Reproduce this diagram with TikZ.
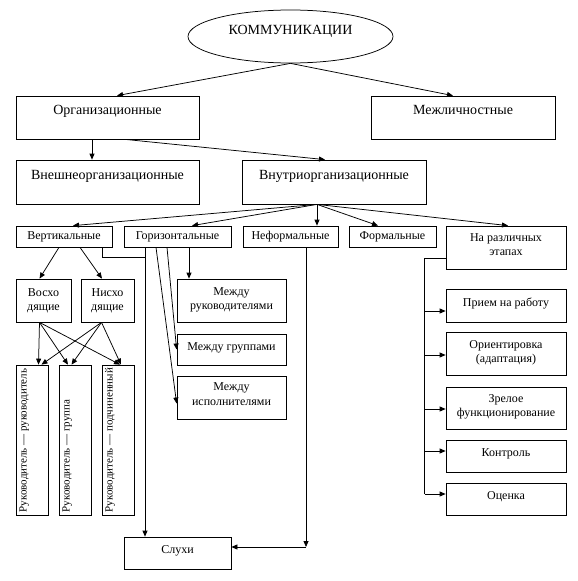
\documentclass[tikz,border=0pt]{standalone}
\usepackage{fontspec}
\setmainfont{Liberation Serif}
\usetikzlibrary{arrows.meta,shapes.geometric,calc}
\newcommand{\fA}{\fontsize{14pt}{16pt}\selectfont}
\newcommand{\fB}{\fontsize{12pt}{14.5pt}\selectfont}
\newcommand{\fC}{\fontsize{11pt}{13pt}\selectfont}
\newcommand{\tbox}[4]{\parbox[c][#2][t]{#1}{\centering\rule{0pt}{#3}#4\par}}
\begin{document}
\begin{tikzpicture}[x=1pt,y=-1pt,
  bx/.style={draw, line width=0.75pt, inner sep=0pt, rectangle, font=\fB},
  top/.style={bx, font=\fA},
  rbx/.style={draw, line width=0.75pt, inner sep=0pt, rectangle, minimum width=32pt, minimum height=150pt},
  rtxt/.style={rotate=90, anchor=base west, inner sep=0pt, font=\fC},
  arr/.style={-{Triangle[length=6pt,width=5pt]}, line width=0.75pt},
  ln/.style={line width=0.75pt}]
\path[fill=white] (0,0) rectangle (578,581);
\useasboundingbox (0,0) rectangle (578,581);

% top level
\node[draw, ellipse, line width=0.75pt, inner sep=0pt, minimum width=205pt, minimum height=53pt, font=\fA] (komm) at (290.5,36.5) {\raisebox{2pt}[0pt][0pt]{КОММУНИКАЦИИ}};
\node[top] (org) at (107.5,117.5) {\tbox{183pt}{43pt}{18pt}{Организационные}};
\node[top] (mezh) at (463,117.5) {\tbox{184pt}{43pt}{18pt}{Межличностные}};
\node[top] (vneshne) at (107.5,182) {\tbox{183pt}{44pt}{19pt}{Внешнеорганизационные}};
\node[top] (vnutri) at (334,182) {\tbox{184pt}{44pt}{19pt}{Внутриорганизационные}};

% row
\node[bx] (vert) at (64,236.5) {\tbox{96pt}{21pt}{13.5pt}{Вертикальные}};
\node[bx] (goriz) at (177.5,236.5) {\tbox{107pt}{21pt}{13.5pt}{Горизонтальные}};
\node[bx] (neform) at (290.5,236.5) {\tbox{95pt}{21pt}{13.5pt}{Неформальные}};
\node[bx] (form) at (392.5,236.5) {\tbox{87pt}{21pt}{13.5pt}{Формальные}};
\node[bx] (etapy) at (506,247.5) {\tbox{120pt}{43pt}{15pt}{На различных\\этапах}};

% vertical branch
\node[bx] (voskh) at (43.5,300.5) {\tbox{55pt}{43pt}{17pt}{Восхо\\дящие}};
\node[bx] (nisk) at (107.5,300.5) {\tbox{53pt}{43pt}{17pt}{Нисхо\\дящие}};
\node[rbx] (r1) at (32,440) {};
\node[rbx] (r2) at (75,440) {};
\node[rbx] (r3) at (118,440) {};
\node[rtxt] (t1) at ([xshift=11pt,yshift=3pt]r1.south west) {Руководитель — руководитель};
\node[rtxt] (t2) at ([xshift=11pt,yshift=3pt]r2.south west) {Руководитель — группа};
\node[rtxt] (t3) at ([xshift=11pt,yshift=3pt]r3.south west) {Руководитель — подчиненный};

% horizontal branch
\node[bx] (mr) at (231.5,300.5) {\tbox{109pt}{43pt}{16pt}{Между\\руководителями}};
\node[bx] (mg) at (231.5,349.5) {\tbox{109pt}{31pt}{16pt}{Между группами}};
\node[bx] (mi) at (231.5,397.5) {\tbox{109pt}{43pt}{14.6pt}{Между\\исполнителями}};

% stages
\node[bx] (priem) at (506,305.5) {\tbox{120pt}{33pt}{17pt}{Прием на работу}};
\node[bx] (orient) at (506,353.5) {\tbox{120pt}{43pt}{16pt}{Ориентировка\\(адаптация)}};
\node[bx] (zrel) at (506,408) {\tbox{120pt}{42pt}{15pt}{Зрелое\\функционирование}};
\node[bx] (kontr) at (506,456) {\tbox{120pt}{32pt}{16pt}{Контроль}};
\node[bx] (otsenka) at (506,499) {\tbox{120pt}{32pt}{16.6pt}{Оценка}};

% rumours
\node[bx] (sluhi) at (177.5,553) {\tbox{107pt}{32pt}{16pt}{Слухи}};

% connectors: top
\draw[arr] (komm.south) -- ([xshift=9.5pt]org.north);
\draw[arr] (komm.south) -- ([xshift=-10pt]mezh.north);
\draw[arr] ([xshift=-15.5pt]org.south) -- ([xshift=-15.5pt]vneshne.north);
\draw[arr] ([xshift=17.5pt]org.south) -- ([xshift=-9pt]vnutri.north);

% fan
\path ([xshift=-17pt]vnutri.south) coordinate (fan);
\draw[arr] (fan) -- ([xshift=9pt]vert.north);
\draw[arr] (fan) -- ([xshift=14.5pt]goriz.north);
\draw[arr] (fan) -- (fan |- neform.north);
\draw[arr] (fan) -- ([xshift=-14.5pt]form.north);
\draw[arr] (fan) -- ([xshift=2pt]etapy.north);

% vertical children
\draw[arr] ([xshift=-5pt]vert.south) -- ([xshift=-4pt]voskh.north);
\draw[arr] ([xshift=16pt]vert.south) -- ([xshift=-5.5pt]nisk.north);
\draw[arr] ([xshift=-4pt]voskh.south) -- ([xshift=6.5pt]r1.north);
\draw[arr] ([xshift=-4pt]voskh.south) -- ([xshift=-7pt]r2.north);
\draw[arr] ([xshift=-4pt]voskh.south) -- ([xshift=2pt]r3.north);
\draw[arr] ([xshift=-6pt]nisk.south) -- ([xshift=9.5pt]r1.north);
\draw[arr] ([xshift=-6pt]nisk.south) -- ([xshift=-3.5pt]r2.north);
\draw[arr] ([xshift=-6pt]nisk.south) -- ([xshift=3pt]r3.north);

% rumours lines
\path ([xshift=-32.5pt]goriz.south) coordinate (gl);
\draw[arr] (gl) -- (gl |- sluhi.north);
\draw[ln] ([xshift=38pt]vert.south) |- ([yshift=-10pt]gl);
\path ([yshift=6pt]sluhi.east) coordinate (s1);
\path ([xshift=15.5pt]neform.south) coordinate (n1);
\draw[arr] (n1) -- (n1 |- s1);
\draw[arr] (n1 |- s1) -- (s1);

% horizontal children
\draw[arr] ([xshift=-21.5pt]goriz.south) -- ([yshift=-6pt]mi.west);
\draw[arr] ([xshift=-10.5pt]goriz.south) -- (mg.west);
\path ([xshift=11.5pt]goriz.south) coordinate (g4);
\draw[arr] (g4) -- (g4 |- mr.north);

% stages spine
\path ([yshift=-10.5pt]etapy.west) coordinate (e1);
\path (e1) ++(-21,0) coordinate (sp);
\path ([yshift=-5.5pt]priem.west) coordinate (p1);
\path ([yshift=-1.5pt]orient.west) coordinate (p2);
\path ([yshift=-1pt]zrel.west) coordinate (p3);
\path ([yshift=5pt]kontr.west) coordinate (p4);
\path ([yshift=5pt]otsenka.west) coordinate (p5);
\draw[ln] (e1) -- (sp) -- (sp |- p5);
\draw[arr] (sp |- p1) -- (p1);
\draw[arr] (sp |- p2) -- (p2);
\draw[arr] (sp |- p3) -- (p3);
\draw[arr] (sp |- p4) -- (p4);
\draw[arr] (sp |- p5) -- (p5);
\end{tikzpicture}
\end{document}
